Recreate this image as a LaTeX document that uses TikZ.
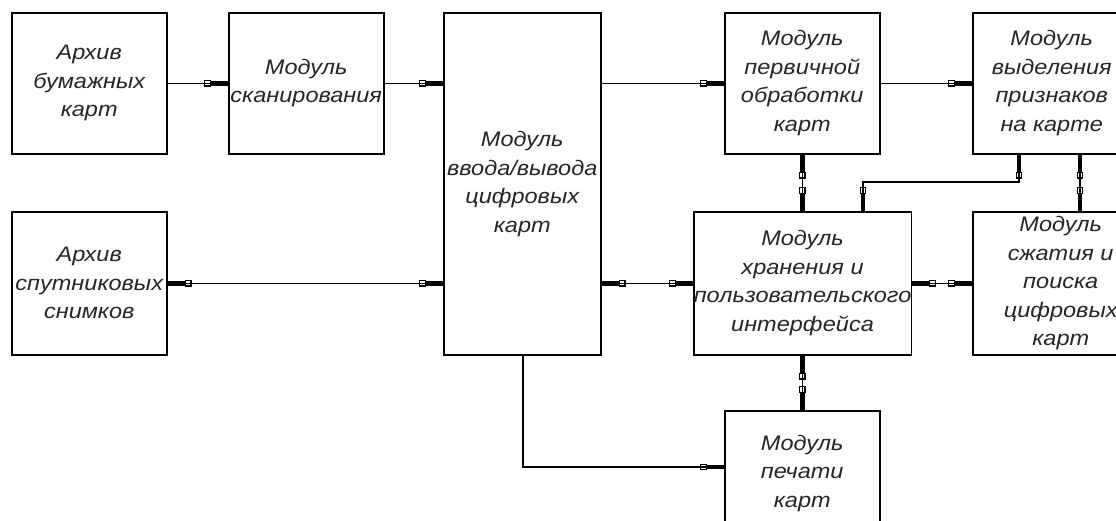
\documentclass[tikz,border=0pt]{standalone}
\usepackage{fontspec}
\setmainfont{Liberation Sans}[FakeStretch=1.12]
\usetikzlibrary{arrows.meta}
\tikzset{
  box/.style={draw, line width=1.5pt, anchor=north west, inner sep=0pt, align=center,
    font=\fontsize{21}{28.5}\selectfont\itshape, text=black!85},
  conn/.style={line width=1.4pt},
  gtip/.tip={Square[open,length=7pt,width=6.5pt,line width=1.1pt] Rectangle[length=17pt,width=4.5pt]},
}
\begin{document}
\begin{tikzpicture}[x=1pt,y=-1pt]
\useasboundingbox (0,0) rectangle (1116,520);
\clip (0,0) rectangle (1116,520);
\fill[white] (0,0) rectangle (1116,520);
% boxes
\node[box, minimum width=155pt, minimum height=141pt] (b1) at (11,12) {Архив\\бумажных\\карт};
\node[box, minimum width=155pt, minimum height=141pt] (b2) at (228,12) {Модуль\\сканирования};
\node[box, minimum width=155pt, minimum height=143pt] (b3) at (11,211) {Архив\\спутниковых\\снимков};
\node[box, minimum width=157pt, minimum height=342pt] (b4) at (443,12) {\raisebox{22pt}{\begin{tabular}{@{}c@{}}Модуль\\ввода/вывода\\цифровых\\карт\end{tabular}}};
\node[box, minimum width=155pt, minimum height=141pt] (b5) at (724,12) {Модуль\\первичной\\обработки\\карт};
\node[box, minimum width=158pt, minimum height=141pt] (b6) at (972,12) {Модуль\\выделения\\признаков\\на карте};
\node[box, minimum width=217pt, minimum height=143pt] (b7) at (693,211) {Модуль\\хранения и\\пользовательского\\интерфейса};
\node[box, minimum width=176pt, minimum height=143pt] (b8) at (972,211) {Модуль\\сжатия и\\поиска\\цифровых\\карт};
\node[box, minimum width=155pt, minimum height=125pt] (b9) at (724,410) {Модуль\\печати\\карт};
% helper coordinates
\coordinate (c68) at (1080,0);
\coordinate (c67a) at (1019,182);
\coordinate (c67b) at (863,182);
\coordinate (c49) at (523,467);
% connectors
\draw[conn,-gtip] (b1.east) -- (b2.west);
\draw[conn,-gtip] (b2.east) -- (b2.east -| b4.west);
\draw[conn,-gtip] (b5.west -| b4.east) -- (b5.west);
\draw[conn,-gtip] (b5.east) -- (b6.west);
\draw[conn,gtip-gtip] (b3.east) -- (b3.east -| b4.west);
\draw[conn,gtip-gtip] (b7.west -| b4.east) -- (b7.west);
\draw[conn,gtip-gtip] (b7.east) -- (b8.west);
\draw[conn,gtip-gtip] (b5.south) -- (b5.south |- b7.north);
\draw[conn,gtip-gtip] (b7.south -| b9.north) -- (b9.north);
\draw[conn,gtip-gtip] (c68 |- b6.south) -- (c68 |- b8.north);
\draw[conn,gtip-gtip] (b6.south -| c67a) -- (c67a) -- (c67b) -- (b7.north -| c67b);
\draw[conn,-gtip] (b4.south -| c49) -- (c49) -- (c49 -| b9.west);
\end{tikzpicture}
\end{document}
